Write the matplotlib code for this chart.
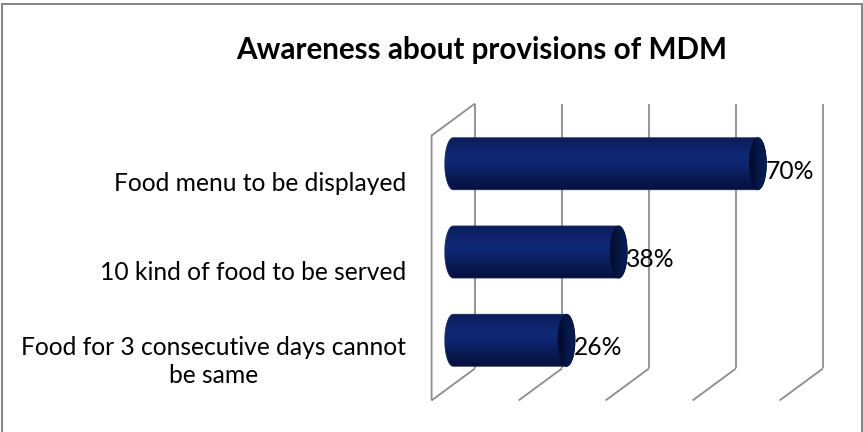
import numpy as np
import matplotlib.pyplot as plt
from matplotlib.patches import Ellipse, PathPatch, Rectangle
from matplotlib.path import Path
from matplotlib.colors import LinearSegmentedColormap

plt.rcParams['font.family'] = ['Lato', 'DejaVu Sans']

title = 'Awareness about provisions of MDM'
categories = ['Food for 3 consecutive days cannot\nbe same',
              '10 kind of food to be served',
              'Food menu to be displayed']
values = [26, 38, 70]
value_labels = ['26%', '38%', '70%']
ticks = [0, 20, 40, 60, 80]

W, H = 863, 432
fig = plt.figure(figsize=(W / 100, H / 100), dpi=100)
ax = fig.add_axes([0, 0, 1, 1])
ax.axis('off')

# pixel scale: percent along x, category slots along y
px_x = 4.35
px_y = 88.3
x0_px = 453.3   # 0% at mid depth
y0_px = 340.3   # first category centre, measured from the top

# 3-D depth: shift from mid plane to back wall
dx = 21.7 / px_x
dy = 16.0 / px_y
ylo, yhi = -0.5, len(categories) - 0.5

grid_kw = dict(color='#8c8c8c', lw=1.3, solid_capstyle='butt', zorder=1)
for t in ticks:
    ax.plot([t + dx, t + dx], [ylo + dy, yhi + dy], **grid_kw)
    ax.plot([t + dx, t - dx], [ylo + dy, ylo - dy], **grid_kw)
# side wall at 0%
ax.plot([ticks[0] - dx, ticks[0] - dx, ticks[0] + dx],
        [ylo - dy, yhi - dy, yhi + dy], **grid_kw)

# cylinder geometry
r = 26.0 / px_y      # half height of a bar
a = 8.5 / px_x       # half width of the end ellipse

body_cmap = LinearSegmentedColormap.from_list(
    'body', [(0.0, '#050f3a'), (0.25, '#0a1b56'), (0.6, '#11297a'),
             (0.85, '#0d2266'), (1.0, '#0b1d5c')])
cap_cmap = LinearSegmentedColormap.from_list(
    'cap', [(0.0, '#03092a'), (0.5, '#061645'), (1.0, '#0a1f5a')])


def cylinder_outline(v, yc):
    th = np.linspace(np.pi / 2, -np.pi / 2, 60)
    right = np.column_stack([v + a * np.cos(th), yc + r * np.sin(th)])
    th2 = np.linspace(-np.pi / 2, -3 * np.pi / 2, 60)
    left = np.column_stack([a * np.cos(th2), yc + r * np.sin(th2)])
    return np.vstack([right, left, right[:1]])


grad_v = np.linspace(0, 1, 256).reshape(-1, 1)
grad_h = np.linspace(0, 1, 256).reshape(1, -1)

for i, (v, lab) in enumerate(zip(values, value_labels)):
    body = PathPatch(Path(cylinder_outline(v, i)), facecolor='none',
                     edgecolor='#1a2a5e', lw=0.6, zorder=3)
    ax.add_patch(body)
    img = ax.imshow(grad_v, extent=[-a, v + a, i - r, i + r], origin='lower',
                    cmap=body_cmap, aspect='auto', zorder=2,
                    interpolation='bilinear')
    img.set_clip_path(body)

    cap = Ellipse((v, i), 2 * a, 2 * r, facecolor='none',
                  edgecolor='#051238', lw=0.6, zorder=5)
    ax.add_patch(cap)
    cimg = ax.imshow(grad_h, extent=[v - a, v + a, i - r, i + r],
                     origin='lower', cmap=cap_cmap, aspect='auto', zorder=4,
                     interpolation='bilinear')
    cimg.set_clip_path(cap)

    ax.text(v + a - 0.2, i - 15.0 / px_y, lab, ha='left', va='baseline',
            fontsize=17.7, color='black', zorder=6)

# category labels: baseline of the last line sits below each bar centre
label_x = (406 - x0_px) / px_x
for i, cat in enumerate(categories):
    n = cat.count('\n') + 1
    off = (27.5 + (n - 1) * 15.5) / px_y
    ax.text(label_x, i - off, cat, ha='right', va='baseline',
            multialignment='center', fontsize=17.7, color='black',
            linespacing=1.3)

ax.set_xlim(-x0_px / px_x, (W - x0_px) / px_x)
ax.set_ylim((y0_px - H) / px_y, y0_px / px_y)

fig.text(482 / W, 1 - 59.3 / H, title, ha='center', va='baseline',
         fontsize=21.3, fontweight='bold', color='black')

# chart area border (bottom edge runs off the image)
fig.patches.append(Rectangle((2 / W, -0.05), 859.5 / W, 1.05 - 3.5 / H,
                             transform=fig.transFigure, fill=False,
                             edgecolor='#878787', lw=1.5))

fig.savefig('out.png', dpi=100)
